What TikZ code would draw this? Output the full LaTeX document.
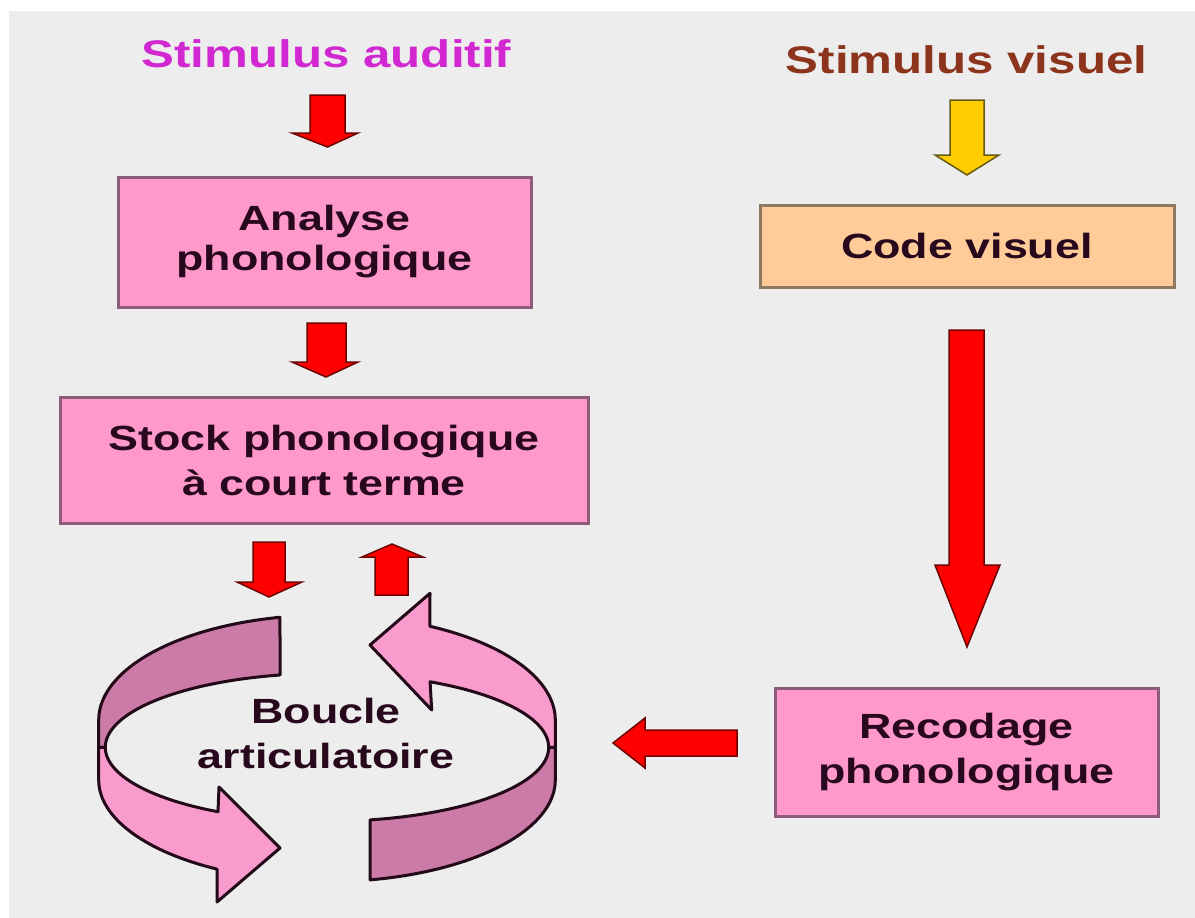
\documentclass[tikz,border=0pt]{standalone}
\usepackage{fontspec}
\newfontfamily\lsb{Liberation Sans}[FakeStretch=1.28]
\definecolor{bg}{RGB}{237,237,237}
\definecolor{pinkfill}{RGB}{255,153,204}
\definecolor{boxline}{RGB}{140,92,120}
\definecolor{orfill}{RGB}{255,204,153}
\definecolor{orline}{RGB}{140,122,96}
\definecolor{txt}{RGB}{40,8,28}
\definecolor{audcol}{RGB}{210,40,210}
\definecolor{viscol}{RGB}{140,52,28}
\definecolor{redfill}{RGB}{255,0,0}
\definecolor{redline}{RGB}{110,0,0}
\definecolor{yelfill}{RGB}{255,204,0}
\definecolor{yelline}{RGB}{100,90,20}
\definecolor{loopdark}{RGB}{204,122,168}
\definecolor{looplight}{RGB}{250,155,205}
\definecolor{loopline}{RGB}{35,10,25}
\begin{document}
\begin{tikzpicture}[x=1pt,y=-1pt,
  box/.style={draw=boxline, line width=3pt, fill=pinkfill, text=txt, align=center, inner sep=0pt,
    font=\lsb\bfseries\fontsize{35}{44}\selectfont},
  header/.style={anchor=base, inner sep=0pt, font=\lsb\bfseries\fontsize{38.5}{44}\selectfont},
  redarrow/.style={fill=redfill, draw=redline, line width=1.5pt, line join=miter},
  yelarrow/.style={fill=yelfill, draw=yelline, line width=1.5pt, line join=miter},
  loopback/.style={fill=loopdark, draw=loopline, line width=3pt, line join=round},
  loopfront/.style={fill=looplight, draw=loopline, line width=3pt, line join=round}]
\useasboundingbox (0,0) rectangle (1195,918);
\fill[white] (0,0) rectangle (1195,918);
\fill[bg] (9,11) rectangle (1195,918);

% headers
\node[header, text=audcol] (aud) at (326.5,67) {Stimulus auditif};
\node[header, text=viscol] (vis) at (966.5,73) {Stimulus visuel};

% boxes
\node[box, minimum width=413pt, minimum height=130pt, font=\lsb\bfseries\fontsize{35}{40}\selectfont] (ana) at (324.5,242) {Analyse\\phonologique};
\node[box, minimum width=528pt, minimum height=126pt, font=\lsb\bfseries\fontsize{35}{45}\selectfont] (stock) at (324,460) {Stock phonologique\\à court terme};
\node[box, fill=orfill, draw=orline, minimum width=414pt, minimum height=82pt] (code) at (967,246) {Code visuel};
\node[box, minimum width=383pt, minimum height=128pt, font=\lsb\bfseries\fontsize{35}{45}\selectfont] (recod) at (966.5,752) {Recodage\\phonologique};

% articulatory loop
\path[loopback] plot[domain=101.9:180, samples=40, variable=\t] ({327+228.3*cos(\t)},{720-105*sin(\t)})
  -- (98.7,747.3)
  -- plot[domain=180:102.2, samples=40, variable=\t] ({327+221.7*cos(\t)},{747.3-74*sin(\t)}) -- cycle;
\path[loopfront] plot[domain=180:240.55, samples=40, variable=\t] ({327+221.7*cos(\t)},{747.3-74*sin(\t)})
  -- (219,787) -- (280,848) -- (217,902)
  -- plot[domain=241.2:180, samples=40, variable=\t] ({327+228.3*cos(\t)},{780-101.7*sin(\t)})
  -- (98.7,747.3) -- cycle;
\path[loopback] plot[domain=-78.8:0, samples=40, variable=\t] ({327+221.7*cos(\t)},{747.3-74*sin(\t)})
  -- (555.3,747.3)
  -- plot[domain=0:-79.1, samples=40, variable=\t] ({327+228.3*cos(\t)},{780-101.7*sin(\t)}) -- cycle;
\path[loopfront] plot[domain=0:62.3, samples=40, variable=\t] ({327+221.7*cos(\t)},{747.3-74*sin(\t)})
  -- (431.7,710) -- (370,645) -- (430,593.3)
  -- plot[domain=63.2:0, samples=40, variable=\t] ({327+228.3*cos(\t)},{720-105*sin(\t)})
  -- (555.3,747.3) -- cycle;
\node[text=txt, align=center, inner sep=0pt, font=\lsb\bfseries\fontsize{35}{45}\selectfont] (boucle) at (326,733) {Boucle\\articulatoire};

% block arrows
\path[redarrow] (310,95) -- (345,95) -- (345,133) -- (358,133) -- (327.5,147) -- (292,133) -- (310,133) -- cycle;
\path[redarrow] (307,323) -- (346,323) -- (346,362) -- (358,362) -- (326,377) -- (292,362) -- (307,362) -- cycle;
\path[redarrow] (253,542) -- (285,542) -- (285,582) -- (302,582) -- (269,597) -- (237,582) -- (253,582) -- cycle;
\path[redarrow] (375,595) -- (408,595) -- (408,557) -- (423,557) -- (392,544) -- (362,557) -- (375,557) -- cycle;
\path[yelarrow] (950,100) -- (984,100) -- (984,155) -- (999,155) -- (967,175) -- (935,155) -- (950,155) -- cycle;
\path[redarrow] (949,330) -- (984,330) -- (984,565) -- (1000,565) -- (967,647) -- (935,565) -- (949,565) -- cycle;
\path[redarrow] (737,730) -- (737,756) -- (645,756) -- (645,768) -- (613,743) -- (645,718) -- (645,730) -- cycle;
\end{tikzpicture}
\end{document}
